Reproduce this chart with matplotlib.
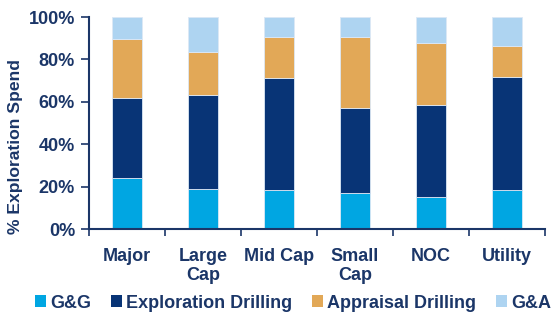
import numpy as np
import matplotlib.pyplot as plt
from matplotlib.patches import Patch

plt.rcParams['font.family'] = ['Liberation Sans', 'DejaVu Sans']
plt.rcParams['font.weight'] = 'bold'

categories = ['Major', 'Large\nCap', 'Mid Cap', 'Small\nCap', 'NOC', 'Utility']
series_names = ['G&G', 'Exploration Drilling', 'Appraisal Drilling', 'G&A']
gg = [24.2, 18.9, 18.2, 17.0, 15.0, 18.3]
expl_drilling = [37.6, 44.3, 53.0, 40.2, 43.5, 53.6]
appraisal_drilling = [27.8, 20.4, 19.2, 33.2, 29.4, 14.6]
ga = [10.4, 16.4, 9.6, 9.6, 12.1, 13.5]
yticks = [0, 20, 40, 60, 80, 100]

colors = ['#00A6E2', '#083476', '#E2A857', '#AED4F1']
navy = '#1B3668'
fs = 13

fig = plt.figure(figsize=(5.52, 3.16), dpi=100)
ax = fig.add_axes([89/552, 1 - 229/316, 456/552, 212/316])

x = np.arange(len(categories))
bottom = np.zeros(len(categories))
for vals, c in zip([gg, expl_drilling, appraisal_drilling, ga], colors):
    ax.bar(x, vals, width=0.40, bottom=bottom, color=c, edgecolor='#DCE8F5', linewidth=0.6)
    bottom += np.array(vals)

ax.set_xlim(-0.5, len(categories) - 0.5)
ax.set_ylim(0, 100)
ax.set_yticks(yticks)
ax.set_yticklabels([f'{v}%' for v in yticks], fontsize=fs, color=navy, fontweight='bold')
ax.set_xticks(x)
ax.set_xticklabels(categories, fontsize=fs, color=navy, fontweight='bold', va='top', linespacing=1.1)
ax.tick_params(axis='x', which='major', length=0, pad=14)
ax.set_xticks(np.arange(-0.5, len(categories)), minor=True)
ax.tick_params(axis='x', which='minor', length=5, width=1.2, color=navy, direction='out')
ax.tick_params(axis='y', length=6, width=1.2, color=navy, pad=4)

for s in ['top', 'right']:
    ax.spines[s].set_visible(False)
for s in ['left', 'bottom']:
    ax.spines[s].set_color(navy)
    ax.spines[s].set_linewidth(1.5)

fig.text(16/552, 1 - 146/316, '% Exploration Spend', rotation=90, ha='center', va='center',
         fontsize=12.6, color=navy, fontweight='bold')

handles = [Patch(facecolor=c, edgecolor='none') for c in colors]
fig.legend(handles, series_names, loc='center left', bbox_to_anchor=(35/552, 1 - 303/316), ncol=4,
           frameon=False, borderpad=0, borderaxespad=0,
           handlelength=0.62, handleheight=0.62, handletextpad=0.2,
           columnspacing=1.12, prop={'size': fs, 'weight': 'bold'}, labelcolor=navy)

fig.savefig('out.png', dpi=100)
